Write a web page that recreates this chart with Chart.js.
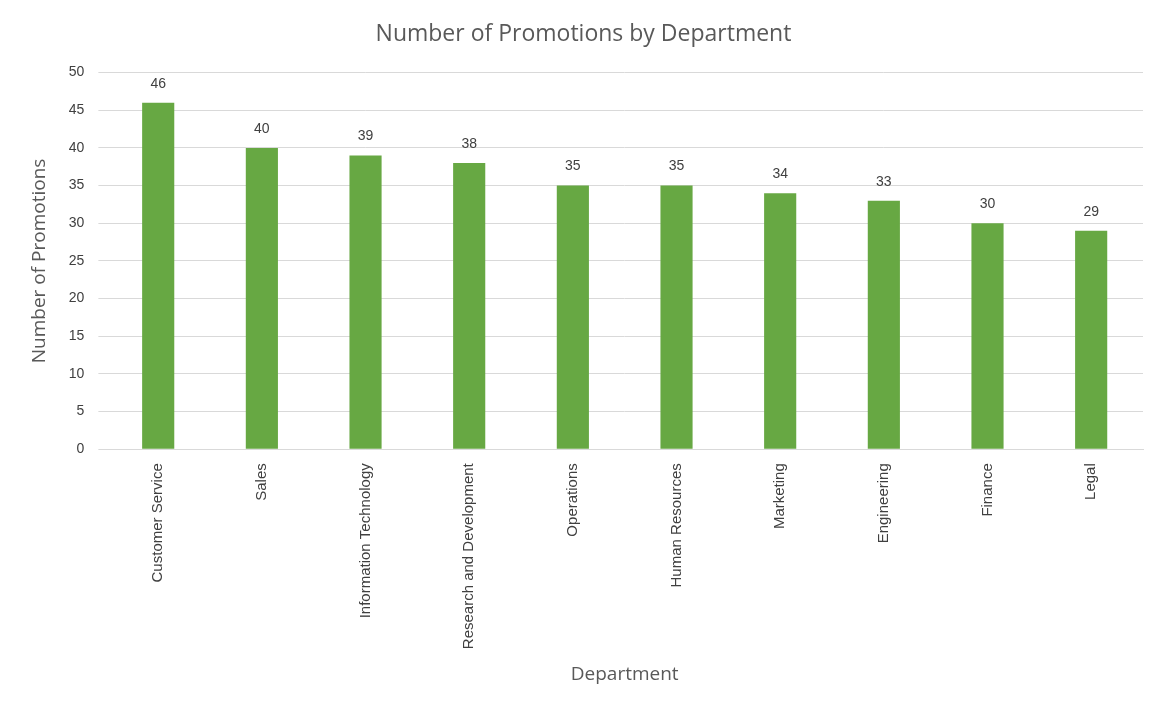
<!DOCTYPE html>
<html><head><meta charset="utf-8">
<script src="https://cdn.jsdelivr.net/npm/chart.js@4/dist/chart.umd.min.js"></script>
<style>html,body{margin:0;padding:0;background:#fff}#w{width:1170px;height:708px;position:relative}</style>
</head><body><div id="w"><canvas id="c"></canvas></div>
<script>
const categories=["Customer Service","Sales","Information Technology","Research and Development","Operations","Human Resources","Marketing","Engineering","Finance","Legal"];
const promotions=[46,40,39,38,35,35,34,33,30,29];
const yTicks=[0,5,10,15,20,25,30,35,40,45,50];
const labelPlugin={id:'lbl',afterDatasetsDraw(ch){const ctx=ch.ctx;const m=ch.getDatasetMeta(0);ctx.save();ctx.font='14px "Liberation Sans", Arial';ctx.fillStyle='#404040';ctx.textAlign='center';ctx.textBaseline='bottom';m.data.forEach((b,i)=>ctx.fillText(promotions[i],b.x,b.y-12));ctx.restore();}};
new Chart(document.getElementById('c'),{type:'bar',data:{labels:categories,datasets:[{data:promotions,backgroundColor:'#67A843',barPercentage:0.31,categoryPercentage:1}]},
options:{responsive:true,maintainAspectRatio:false,animation:false,layout:{padding:{left:24,right:27,top:15,bottom:18}},
plugins:{legend:{display:false},tooltip:{enabled:false},title:{display:true,text:'Number of Promotions by Department',color:'#595959',font:{size:23,family:'"Open Sans", Arial',weight:'normal'},padding:{top:6,bottom:24}}},
scales:{x:{grid:{display:false},border:{color:'#d9d9d9'},ticks:{color:'#404040',maxRotation:90,minRotation:90,padding:6,font:{size:15,family:'"Liberation Sans", Arial'}},title:{display:true,text:'Department',color:'#595959',font:{size:19,family:'"Open Sans", Arial'},padding:{top:8}}},
y:{min:0,max:50,afterBuildTicks(a){a.ticks=yTicks.map(v=>({value:v}));},grid:{color:'#d9d9d9'},border:{display:false},ticks:{color:'#404040',padding:14,font:{size:14,family:'"Liberation Sans", Arial'}},title:{display:true,text:'Number of Promotions',color:'#595959',font:{size:19,family:'"Open Sans", Arial'}}}}},
plugins:[labelPlugin]});
</script></body></html>
